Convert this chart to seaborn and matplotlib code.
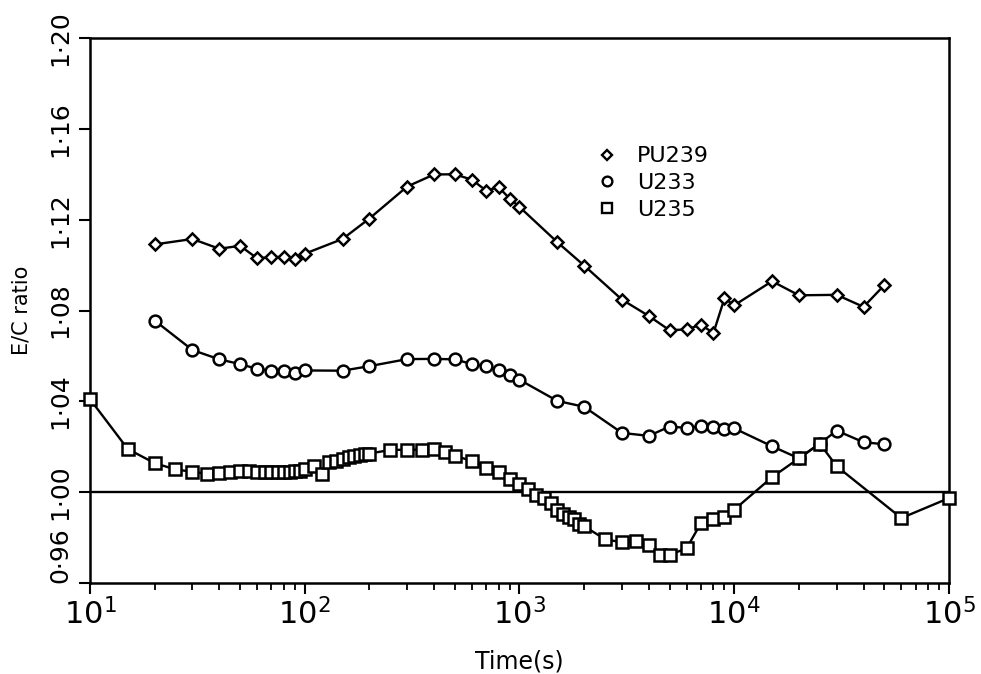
import numpy as np
import pandas as pd
import matplotlib
matplotlib.use("Agg")
import matplotlib.pyplot as plt
import seaborn as sns
from matplotlib.lines import Line2D
from matplotlib.ticker import LogLocator, NullFormatter

# ---------------- data ----------------
pu239_time = [20, 30, 40, 50, 60, 70, 80, 90, 100, 150, 200, 300, 400, 500, 600, 700,
              800, 900, 1000, 1500, 2000, 3000, 4000, 5000, 6000, 7000, 8000, 9000,
              10000, 15000, 20000, 30000, 40000, 50000]
pu239_ratio = [1.1091, 1.1115, 1.1072, 1.1085, 1.1030, 1.1035, 1.1036, 1.1025, 1.1050,
               1.1115, 1.1205, 1.1346, 1.1399, 1.1400, 1.1376, 1.1328, 1.1343, 1.1293,
               1.1256, 1.1101, 1.0998, 1.0848, 1.0776, 1.0713, 1.0717, 1.0737, 1.0701,
               1.0853, 1.0823, 1.0929, 1.0867, 1.0869, 1.0816, 1.0912]

u233_time = [20, 30, 40, 50, 60, 70, 80, 90, 100, 150, 200, 300, 400, 500, 600, 700,
             800, 900, 1000, 1500, 2000, 3000, 4000, 5000, 6000, 7000, 8000, 9000,
             10000, 15000, 20000, 25000, 30000, 40000, 50000]
u233_ratio = [1.0756, 1.0626, 1.0585, 1.0564, 1.0543, 1.0535, 1.0535, 1.0524, 1.0536,
              1.0535, 1.0555, 1.0586, 1.0587, 1.0585, 1.0564, 1.0554, 1.0536, 1.0518,
              1.0495, 1.0402, 1.0376, 1.0261, 1.0248, 1.0289, 1.0283, 1.0290, 1.0288,
              1.0280, 1.0281, 1.0202, 1.0149, 1.0214, 1.0271, 1.0220, 1.0211]

u235_time = [10, 15, 20, 25, 30, 35, 40, 45, 50, 55, 60, 65, 70, 75, 80, 85, 90, 95, 100,
             110, 120, 130, 140, 150, 160, 170, 180, 190, 200,
             250, 300, 350, 400, 450, 500, 600, 700, 800, 900, 1000,
             1100, 1200, 1300, 1400, 1500, 1600, 1700, 1800, 1900, 2000,
             2500, 3000, 3500, 4000, 4500, 5000, 6000, 7000, 8000, 9000, 10000,
             15000, 20000, 25000, 30000, 60000, 100000]
u235_ratio = [1.0410, 1.0190, 1.0128, 1.0100, 1.0090, 1.0081, 1.0085, 1.0089, 1.0094, 1.0094,
              1.0090, 1.0088, 1.0088, 1.0089, 1.0090, 1.0091, 1.0093, 1.0095, 1.0100,
              1.0116, 1.0079, 1.0131, 1.0139, 1.0147, 1.0154, 1.0159, 1.0162, 1.0166, 1.0170,
              1.0186, 1.0187, 1.0187, 1.0188, 1.0177, 1.0160, 1.0138, 1.0108, 1.0087, 1.0057, 1.0035,
              1.0014, 0.9988, 0.9975, 0.9953, 0.9922, 0.9905, 0.9892, 0.9880, 0.9862, 0.9850,
              0.9793, 0.9779, 0.9783, 0.9766, 0.9724, 0.9724, 0.9753, 0.9864, 0.9882, 0.9892, 0.9923,
              1.0066, 1.0149, 1.0214, 1.0114, 0.9886, 0.9974]

series_names = ["PU239", "U233", "U235"]
y_ticks = [0.96, 1.00, 1.04, 1.08, 1.12, 1.16, 1.20]
y_tick_labels = ["0·96", "1·00", "1·04", "1·08", "1·12", "1·16", "1·20"]
x_ticks = [1e1, 1e2, 1e3, 1e4, 1e5]
x_tick_labels = [r"$10^{1}$", r"$10^{2}$", r"$10^{3}$", r"$10^{4}$", r"$10^{5}$"]

# ---------------- plotting ----------------
sns.set_style("ticks")
plt.rcParams["font.family"] = ["DejaVu Sans"]
plt.rcParams["mathtext.fontset"] = "dejavusans"
for key in ["text.color", "axes.labelcolor", "xtick.color", "ytick.color", "axes.edgecolor"]:
    plt.rcParams[key] = "black"

fig = plt.figure(figsize=(9.81, 6.74), dpi=100)
ax = fig.add_axes([0.0917, 0.135, 0.8757, 0.8086])
ax.set_xscale("log")

data = {
    "PU239": (pu239_time, pu239_ratio),
    "U233": (u233_time, u233_ratio),
    "U235": (u235_time, u235_ratio),
}
markers = {"PU239": "D", "U233": "o", "U235": "s"}
msizes = {"PU239": 6.2, "U233": 8.5, "U235": 8.0}

ax.axhline(1.0, color="black", lw=1.7, zorder=1)

for name in series_names:
    t, r = data[name]
    df = pd.DataFrame({"Time": t, "ratio": r})
    sns.lineplot(data=df, x="Time", y="ratio", ax=ax, color="black", lw=1.7,
                 marker=markers[name], markersize=msizes[name],
                 markerfacecolor="white", markeredgecolor="black",
                 markeredgewidth=1.8, estimator=None, sort=True,
                 legend=False, clip_on=False, zorder=3)

ax.set_xlim(10, 1e5)
ax.set_ylim(0.96, 1.20)

ax.set_xticks(x_ticks)
ax.set_xticklabels(x_tick_labels)
ax.xaxis.set_minor_locator(LogLocator(base=10, subs=np.arange(2, 10)))
ax.xaxis.set_minor_formatter(NullFormatter())
ax.set_yticks(y_ticks)
ax.set_yticklabels(y_tick_labels)

ax.tick_params(axis="both", which="major", direction="out", length=8, width=1.5,
               color="black", labelcolor="black")
ax.tick_params(axis="x", which="major", labelsize=22, pad=3)
ax.tick_params(axis="x", which="minor", direction="out", length=5, width=1.3,
               color="black")
ax.tick_params(axis="y", which="major", labelsize=18, labelrotation=90, pad=5)
for lab in ax.get_yticklabels():
    lab.set_verticalalignment("center")
ax.get_yticklabels()[0].set_verticalalignment("bottom")

for s in ax.spines.values():
    s.set_linewidth(1.8)
    s.set_color("black")
    s.set_visible(True)

ax.set_xlabel("Time(s)", fontsize=17)
ax.set_ylabel("E/C ratio", fontsize=15)
ax.xaxis.set_label_coords(0.5, -0.122)
ax.yaxis.set_label_coords(-0.068, 0.5)

handles = [Line2D([], [], ls="none", marker=markers[n], markersize=5.5 if n == "PU239" else 7,
                  markerfacecolor="white", markeredgecolor="black", markeredgewidth=1.7)
           for n in series_names]
ax.legend(handles, series_names, loc="upper left", bbox_to_anchor=(0.588, 0.801),
          frameon=False, fontsize=16, handletextpad=0.8, labelspacing=0.3,
          borderpad=0, borderaxespad=0, handlelength=1.1)

ax.grid(False)
fig.savefig("out.png", dpi=100)
